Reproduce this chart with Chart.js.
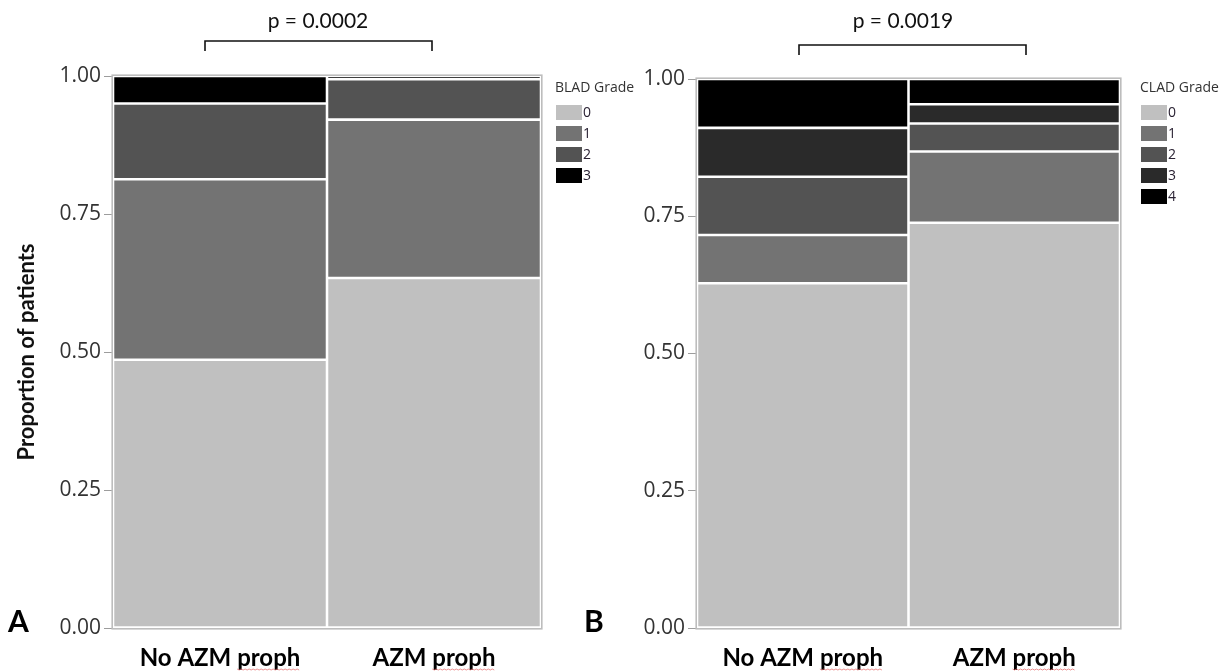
<!DOCTYPE html>
<html>
<head>
<meta charset="utf-8">
<script src="https://cdn.jsdelivr.net/npm/chart.js@4.4.1/dist/chart.umd.min.js"></script>
<style>
  html, body { margin: 0; padding: 0; background: #fff; }
  body { width: 1226px; height: 672px; overflow: hidden; position: relative; }
  .panel { position: absolute; top: 0; height: 672px; }
  #wrapA { left: 0; width: 660px; }
  #wrapB { left: 620px; width: 606px; }
  .tag { position: absolute; font: 700 30px Lato, "Liberation Sans", sans-serif; color: #000; line-height: 1; }
</style>
</head>
<body>
<div class="panel" id="wrapA"><canvas id="chartA" width="660" height="672"></canvas></div>
<div class="panel" id="wrapB"><canvas id="chartB" width="606" height="672"></canvas></div>
<div class="tag" style="left:8px; top:605px;">A</div>
<div class="tag" style="left:584px; top:605px;">B</div>
<script>
// Groups on the x axis
const groups = ['No AZM proph', 'AZM proph'];

// Panel A: BLAD grade proportions per group
const bladGrades = ['0', '1', '2', '3'];
const bladNoAzm = [0.486, 0.327, 0.137, 0.050];
const bladAzm   = [0.634, 0.287, 0.073, 0.006];

// Panel B: CLAD grade proportions per group
const cladGrades = ['0', '1', '2', '3', '4'];
const cladNoAzm = [0.628, 0.088, 0.106, 0.089, 0.089];
const cladAzm   = [0.738, 0.130, 0.051, 0.035, 0.046];

// Shared y tick values and p-value labels
const yTicks = [0, 0.25, 0.5, 0.75, 1];
const pTextA = 'p = 0.0002';
const pTextB = 'p = 0.0019';

const bladColors = ['#c0c0c0', '#737373', '#535353', '#000000'];
const cladColors = ['#c0c0c0', '#737373', '#535353', '#2a2a2a', '#000000'];

// Frame, p-value bracket, legend and spell-check underline
const decor = {
  id: 'panelDecor',
  afterDatasetsDraw(chart, args, o) {
    const { ctx, chartArea: a } = chart;
    ctx.save();
    ctx.strokeStyle = '#bdbdbd';
    ctx.lineWidth = 1.6;
    ctx.strokeRect(a.left - 0.8, a.top - 0.8, a.right - a.left + 1.6, a.bottom - a.top + 1.6);
    ctx.restore();
  },
  afterDraw(chart, args, o) {
    const { ctx } = chart;
    ctx.save();
    // p value and bracket
    ctx.fillStyle = '#111';
    ctx.font = '21px Lato, "Open Sans", sans-serif';
    ctx.textAlign = 'center';
    ctx.textBaseline = 'alphabetic';
    ctx.fillText(o.pText, o.pX, o.pY);
    ctx.strokeStyle = '#111';
    ctx.lineWidth = 1.6;
    ctx.beginPath();
    ctx.moveTo(o.bx1, o.by + 10);
    ctx.lineTo(o.bx1, o.by);
    ctx.lineTo(o.bx2, o.by);
    ctx.lineTo(o.bx2, o.by + 10);
    ctx.stroke();

    // legend
    ctx.textAlign = 'left';
    ctx.textBaseline = 'middle';
    ctx.font = '14px "Open Sans", sans-serif';
    ctx.fillStyle = '#333';
    ctx.fillText(o.legendTitle, o.lx, o.ly);
    chart.data.datasets.forEach((ds, i) => {
      const y = o.ly + 17 + i * 21;
      ctx.fillStyle = ds.backgroundColor;
      ctx.fillRect(o.lx + 1, y, 26, 15);
      ctx.fillStyle = '#2a2233';
      ctx.font = '14px "Open Sans", sans-serif';
      ctx.fillText(ds.label, o.lx + 28, y + 8);
    });

    // red squiggle under the last word of each x label
    const xs = chart.scales.x;
    ctx.font = '700 24px Lato, sans-serif';
    ctx.strokeStyle = 'rgba(230,110,110,0.75)';
    ctx.lineWidth = 1;
    xs.ticks.forEach((t, i) => {
      const label = xs.getLabelForValue(t.value);
      const w = ctx.measureText(label).width;
      const word = label.split(' ').pop();
      const ww = ctx.measureText(word).width;
      const cx = xs.getPixelForTick(i);
      const x0 = cx + w / 2 - ww;
      const y0 = o.squiggleY;
      ctx.beginPath();
      for (let x = x0; x <= x0 + ww; x += 2) {
        const yy = y0 + (((x - x0) / 2) % 2 === 0 ? 0 : 1);
        if (x === x0) ctx.moveTo(x, yy); else ctx.lineTo(x, yy);
      }
      ctx.stroke();
    });
    ctx.restore();
  }
};

function buildDatasets(grades, colors, noAzm, azm) {
  return grades.map((g, i) => ({
    label: g,
    data: [noAzm[i], azm[i]],
    backgroundColor: colors[i],
    borderColor: '#ffffff',
    borderWidth: 1.6,
    borderSkipped: false,
    categoryPercentage: 1.0,
    barPercentage: 1.0
  }));
}

function makeChart(id, datasets, pad, yWidth, showTitle, deco) {
  return new Chart(document.getElementById(id), {
    type: 'bar',
    data: { labels: groups, datasets },
    plugins: [decor],
    options: {
      responsive: false,
      animation: false,
      events: [],
      layout: { padding: pad },
      plugins: {
        legend: { display: false },
        tooltip: { enabled: false },
        panelDecor: deco
      },
      scales: {
        x: {
          stacked: true,
          grid: { display: false },
          border: { display: false },
          ticks: {
            color: '#000',
            padding: 8,
            font: { family: 'Lato, sans-serif', size: 24, weight: '700' }
          },
          afterFit(s) { s.height = 44; }
        },
        y: {
          stacked: true,
          min: 0,
          max: 1,
          afterBuildTicks(s) { s.ticks = yTicks.map(v => ({ value: v })); },
          grid: { drawOnChartArea: false, color: '#9d9d9d', tickLength: 9, lineWidth: 1 },
          border: { display: false },
          ticks: {
            color: '#333',
            padding: 3,
            font: { family: '"Open Sans", sans-serif', size: 21 },
            callback: v => Number(v).toFixed(2)
          },
          title: {
            display: showTitle,
            text: 'Proportion of patients',
            color: '#111',
            padding: { top: 0, bottom: 0 },
            font: { family: 'Lato, sans-serif', size: 22, weight: '700' }
          },
          afterFit(s) { s.width = yWidth; }
        }
      }
    }
  });
}

makeChart('chartA',
  buildDatasets(bladGrades, bladColors, bladNoAzm, bladAzm),
  { left: 14, top: 76, right: 119, bottom: 0 }, 99, true,
  { pText: pTextA, pX: 318, pY: 28, bx1: 205, bx2: 432, by: 41,
    legendTitle: 'BLAD Grade', lx: 555, ly: 88, squiggleY: 669 });

makeChart('chartB',
  buildDatasets(cladGrades, cladColors, cladNoAzm, cladAzm),
  { left: 0, top: 79, right: 106, bottom: 0 }, 77, false,
  { pText: pTextB, pX: 283, pY: 28, bx1: 179, bx2: 406, by: 45,
    legendTitle: 'CLAD Grade', lx: 520, ly: 88, squiggleY: 669 });
</script>
</body>
</html>
